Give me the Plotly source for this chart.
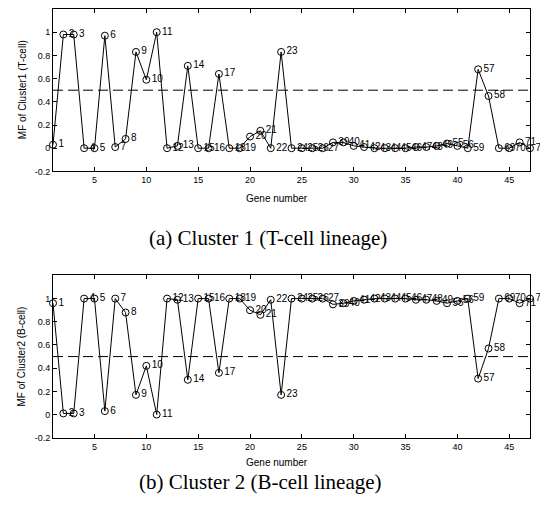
import plotly.graph_objects as go

# The page body has an 8px margin, so the figure is drawn 8px in from the window corner.
OFF = 8
W, H = 548 - OFF, 524 - OFF

gene_pos = list(range(1, 48))
gene_ids = [1, 2, 3, 4, 5, 6, 7, 8, 9, 10, 11, 12, 13, 14, 15, 16, 17, 18, 19, 20, 21, 22, 23,
            24, 25, 26, 27, 39, 40, 41, 42, 43, 44, 45, 46, 47, 48, 49, 55, 56, 59, 57, 58,
            69, 70, 71, 72]

mf_cluster1 = [0.03, 0.98, 0.98, 0.00, 0.00, 0.97, 0.01, 0.08, 0.83, 0.59, 1.00, 0.00, 0.02,
               0.71, 0.00, 0.00, 0.64, 0.00, 0.00, 0.10, 0.15, 0.00, 0.83,
               0.00, 0.00, 0.00, 0.00, 0.05, 0.05, 0.02, 0.01, 0.00, 0.00, 0.00, 0.00,
               0.01, 0.01, 0.02, 0.04, 0.02, 0.00, 0.68, 0.45, 0.00, 0.00, 0.05, 0.00]

mf_cluster2 = [0.96, 0.01, 0.01, 1.00, 1.00, 0.03, 1.00, 0.88, 0.17, 0.42, 0.00, 1.00, 0.99,
               0.30, 1.00, 1.00, 0.36, 1.00, 1.00, 0.90, 0.86, 0.99, 0.17,
               1.00, 1.00, 1.00, 1.00, 0.95, 0.96, 0.98, 0.99, 1.00, 1.00, 1.00, 1.00,
               0.99, 0.99, 0.98, 0.96, 0.98, 1.00, 0.31, 0.57, 1.00, 1.00, 0.96, 1.00]

threshold = 0.5
x_range = [1, 47]
y_range = [-0.2, 1.2]
x_ticks = [5, 10, 15, 20, 25, 30, 35, 40, 45]
y_ticks = [-0.2, 0, 0.2, 0.4, 0.6, 0.8, 1]
y_tick_text = ["-0.2", "0", "0.2", "0.4", "0.6", "0.8", "1"]
y_titles = ["MF of Cluster1 (T-cell)", "MF of Cluster2 (B-cell)"]
captions = ["(a) Cluster 1 (T-cell lineage)", "(b) Cluster 2 (B-cell lineage)"]


def px_x(p):
    return (p - OFF) / W


def px_y(p):
    return 1 - (p - OFF) / H


# axes boxes in window pixels (left, right, top, bottom)
L, R = 53, 530
boxes = [(9, 173), (278, 442)]

fig = go.Figure()
series = [mf_cluster1, mf_cluster2]
for i, vals in enumerate(series):
    xa = "x" if i == 0 else "x2"
    ya = "y" if i == 0 else "y2"
    fig.add_trace(go.Scatter(
        x=[x_range[0], x_range[1]], y=[threshold, threshold], mode="lines",
        line=dict(color="black", width=1, dash="10px,5px"),
        xaxis=xa, yaxis=ya, showlegend=False, hoverinfo="skip"))
    fig.add_trace(go.Scatter(
        x=gene_pos, y=vals, mode="lines+markers+text",
        text=[str(g) for g in gene_ids], textposition="middle right",
        textfont=dict(family="Liberation Sans", size=10, color="black"),
        line=dict(color="black", width=1),
        marker=dict(symbol="circle-open", size=7, color="black", line=dict(width=1)),
        xaxis=xa, yaxis=ya, showlegend=False, cliponaxis=False))

axis_common = dict(showline=True, mirror="ticks", linecolor="black", linewidth=1,
                   ticks="inside", ticklen=4, tickcolor="black", showgrid=False,
                   zeroline=False, tickfont=dict(family="Liberation Sans", size=9, color="black"))

layout = dict(width=W, height=H, margin=dict(l=0, r=0, t=0, b=0),
              paper_bgcolor="white", plot_bgcolor="white", showlegend=False)
for i, (top, bot) in enumerate(boxes):
    sfx = "" if i == 0 else "2"
    layout["xaxis" + sfx] = dict(domain=[px_x(L), px_x(R)], range=x_range,
                                 tickvals=x_ticks, anchor="y" + sfx, **axis_common)
    layout["yaxis" + sfx] = dict(domain=[px_y(bot), px_y(top)], range=y_range,
                                 tickvals=y_ticks, ticktext=y_tick_text,
                                 anchor="x" + sfx, **axis_common)
fig.update_layout(**layout)

annotations = []
label_y = [200, 467]
caption_y = [240, 487]
caption_x = [268, 260]
for i, (top, bot) in enumerate(boxes):
    annotations.append(dict(text="Gene number", x=px_x(277), y=px_y(label_y[i]),
                            xref="paper", yref="paper", showarrow=False,
                            xanchor="center", yanchor="middle",
                            font=dict(family="Liberation Sans", size=10, color="black")))
    annotations.append(dict(text=y_titles[i], x=px_x(22), y=px_y((top + bot) / 2),
                            xref="paper", yref="paper", showarrow=False, textangle=-90,
                            xanchor="center", yanchor="middle",
                            font=dict(family="Liberation Sans", size=10, color="black")))
    annotations.append(dict(text=captions[i], x=px_x(caption_x[i]), y=px_y(caption_y[i]),
                            xref="paper", yref="paper", showarrow=False,
                            xanchor="center", yanchor="middle",
                            font=dict(family="Liberation Serif", size=21, color="black")))
fig.update_layout(annotations=annotations)

fig.write_html("out.html")
